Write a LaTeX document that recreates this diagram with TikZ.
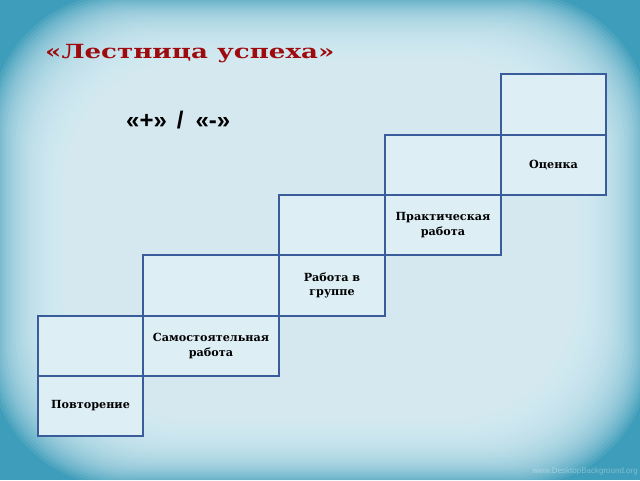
\documentclass[tikz,border=0pt]{standalone}
\usepackage{fontspec}
\setmainfont{DejaVu Serif}
\newfontfamily\lsans{Liberation Sans}
\definecolor{bgc}{HTML}{E0F3FA}
\definecolor{bgo}{HTML}{3E9DBA}
\definecolor{boxfill}{HTML}{DDEEF5}
\definecolor{boxline}{HTML}{3A5C9A}
\definecolor{titlered}{HTML}{9E0B0F}
\begin{document}
\begin{tikzpicture}[x=1pt,y=-1pt,
  stepbox/.style={draw=boxline, fill=boxfill, line width=1.8pt, rectangle, inner sep=0pt,
    minimum height=60.5pt, align=center, font=\bfseries\fontsize{11.2}{14.5}\selectfont, text=black},
  title/.style={font=\bfseries\fontsize{19.5}{22}\selectfont, text=titlered, inner sep=0pt, anchor=base west},
  signs/.style={font=\lsans\bfseries\fontsize{24}{28}\selectfont, text=black, inner sep=0pt, anchor=base west}]
\useasboundingbox (0,0) rectangle (640,480);
\fill[bgo] (0,0) rectangle (640,480);
\foreach \i in {0,...,44}{
  \fill[bgc, opacity=0.09, rounded corners=130pt] (-10+2.3*\i,-6+2.1*\i) rectangle (650-2.3*\i,486-2.1*\i);
}
\node[title] (t) at (45,58) {\scalebox{1.34}[1]{«Лестница успеха»}};
\node[signs] (s) at (126,128) {«+»\hspace{10pt}/\hspace{12pt}«-»};
% upper empty boxes
\node[stepbox, minimum width=105pt] (u1) at (90.5,346) {};
\node[stepbox, minimum width=136pt] (u2) at (211,285.5) {};
\node[stepbox, minimum width=106pt] (u3) at (332,225) {};
\node[stepbox, minimum width=116pt] (u4) at (443,165) {};
\node[stepbox, minimum width=105pt] (u5) at (553.5,104.5) {};
% labelled boxes
\node[stepbox, minimum width=105pt] (b1) at (90.5,406) {Повторение};
\node[stepbox, minimum width=136pt] (b2) at (211,346) {Самостоятельная\\работа};
\node[stepbox, minimum width=106pt] (b3) at (332,285.5) {Работа в\\группе};
\node[stepbox, minimum width=116pt] (b4) at (443,225) {Практическая\\работа};
\node[stepbox, minimum width=105pt] (b5) at (553.5,165) {Оценка};
\node[font=\lsans\fontsize{8}{9}\selectfont, text=white, opacity=0.35, anchor=base east, inner sep=0pt] (w) at (638,473) {www.DesktopBackground.org};
\end{tikzpicture}
\end{document}
